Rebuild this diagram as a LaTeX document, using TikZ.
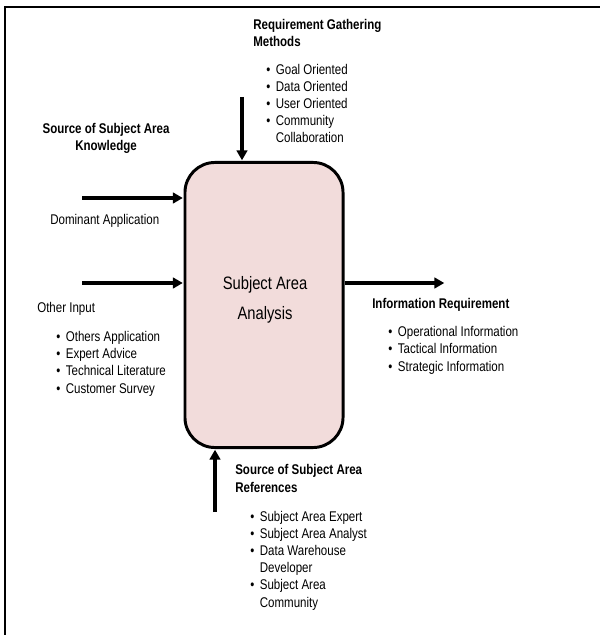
\documentclass[tikz,border=0pt]{standalone}
\usepackage{fontspec}
\setmainfont{Liberation Sans}[FakeStretch=0.82]
\usetikzlibrary{arrows.meta}
\definecolor{BoxFill}{RGB}{242,220,219}
\newcommand{\itm}[1]{\makebox[0.24cm][l]{\textbullet}#1}
\newcommand{\cnt}[1]{\hspace*{0.24cm}#1}

\begin{document}
\begin{tikzpicture}[x=0.025cm, y=-0.025cm,
    txt/.style={align=left, anchor=base west, inner sep=0pt, font=\fontsize{10}{12.2}\selectfont},
    head/.style={txt, font=\fontsize{10}{12.2}\selectfont\bfseries},
    arr/.style={-{Triangle[length=7pt, width=7.5pt]}, line width=2.8pt, shorten >=0.5pt},
]
\useasboundingbox (0,0) rectangle (600,635);
\draw[line width=1.8pt] (5,635) -- (5,7) -- (600,7);

% central process box
\node[draw, line width=2.1pt, fill=BoxFill, rounded corners=0.75cm,
      minimum width=3.95cm, minimum height=7.125cm] (sa) at (264,305) {};
\node[font=\fontsize{12.8}{21}\selectfont, align=center] (salabel) at (265,300) {Subject Area\\Analysis};

% arrow ends
\coordinate (rgm) at (242,97);
\coordinate (dom) at (82,198);
\coordinate (oth) at (82,283);
\coordinate (inf) at (445,283);
\coordinate (ref) at (215,512);

\draw[arr] (rgm) -- (rgm |- sa.north);
\draw[arr] (dom) -- (dom -| sa.west);
\draw[arr] (oth) -- (oth -| sa.west);
\draw[arr] (sa.east |- inf) -- (inf);
\draw[arr] (ref) -- (ref |- sa.south);

% labels (base = last line)
\node[head] (rgmhead) at (253,47) {Requirement Gathering\\Methods};
\node[txt] (rgmlist) at (266,143) {\itm{Goal Oriented}\\\itm{Data Oriented}\\\itm{User Oriented}\\\itm{Community}\\\cnt{Collaboration}};

\node[head, align=center, anchor=base] (skhead) at (106,151) {Source of Subject Area\\Knowledge};
\node[txt] (domlabel) at (50,225) {Dominant Application};
\node[txt] (othlabel) at (37,312) {Other Input};
\node[txt] (othlist) at (56,393) {\itm{Others Application}\\\itm{Expert Advice}\\\itm{Technical Literature}\\\itm{Customer Survey}};

\node[head] (irhead) at (372,308) {Information Requirement};
\node[txt] (irlist) at (388,371) {\itm{Operational Information}\\\itm{Tactical Information}\\\itm{Strategic Information}};

\node[head] (srhead) at (235,492) {Source of Subject Area\\References};
\node[txt] (srlist) at (250,607) {\itm{Subject Area Expert}\\\itm{Subject Area Analyst}\\\itm{Data Warehouse}\\\cnt{Developer}\\\itm{Subject Area}\\\cnt{Community}};
\end{tikzpicture}
\end{document}
